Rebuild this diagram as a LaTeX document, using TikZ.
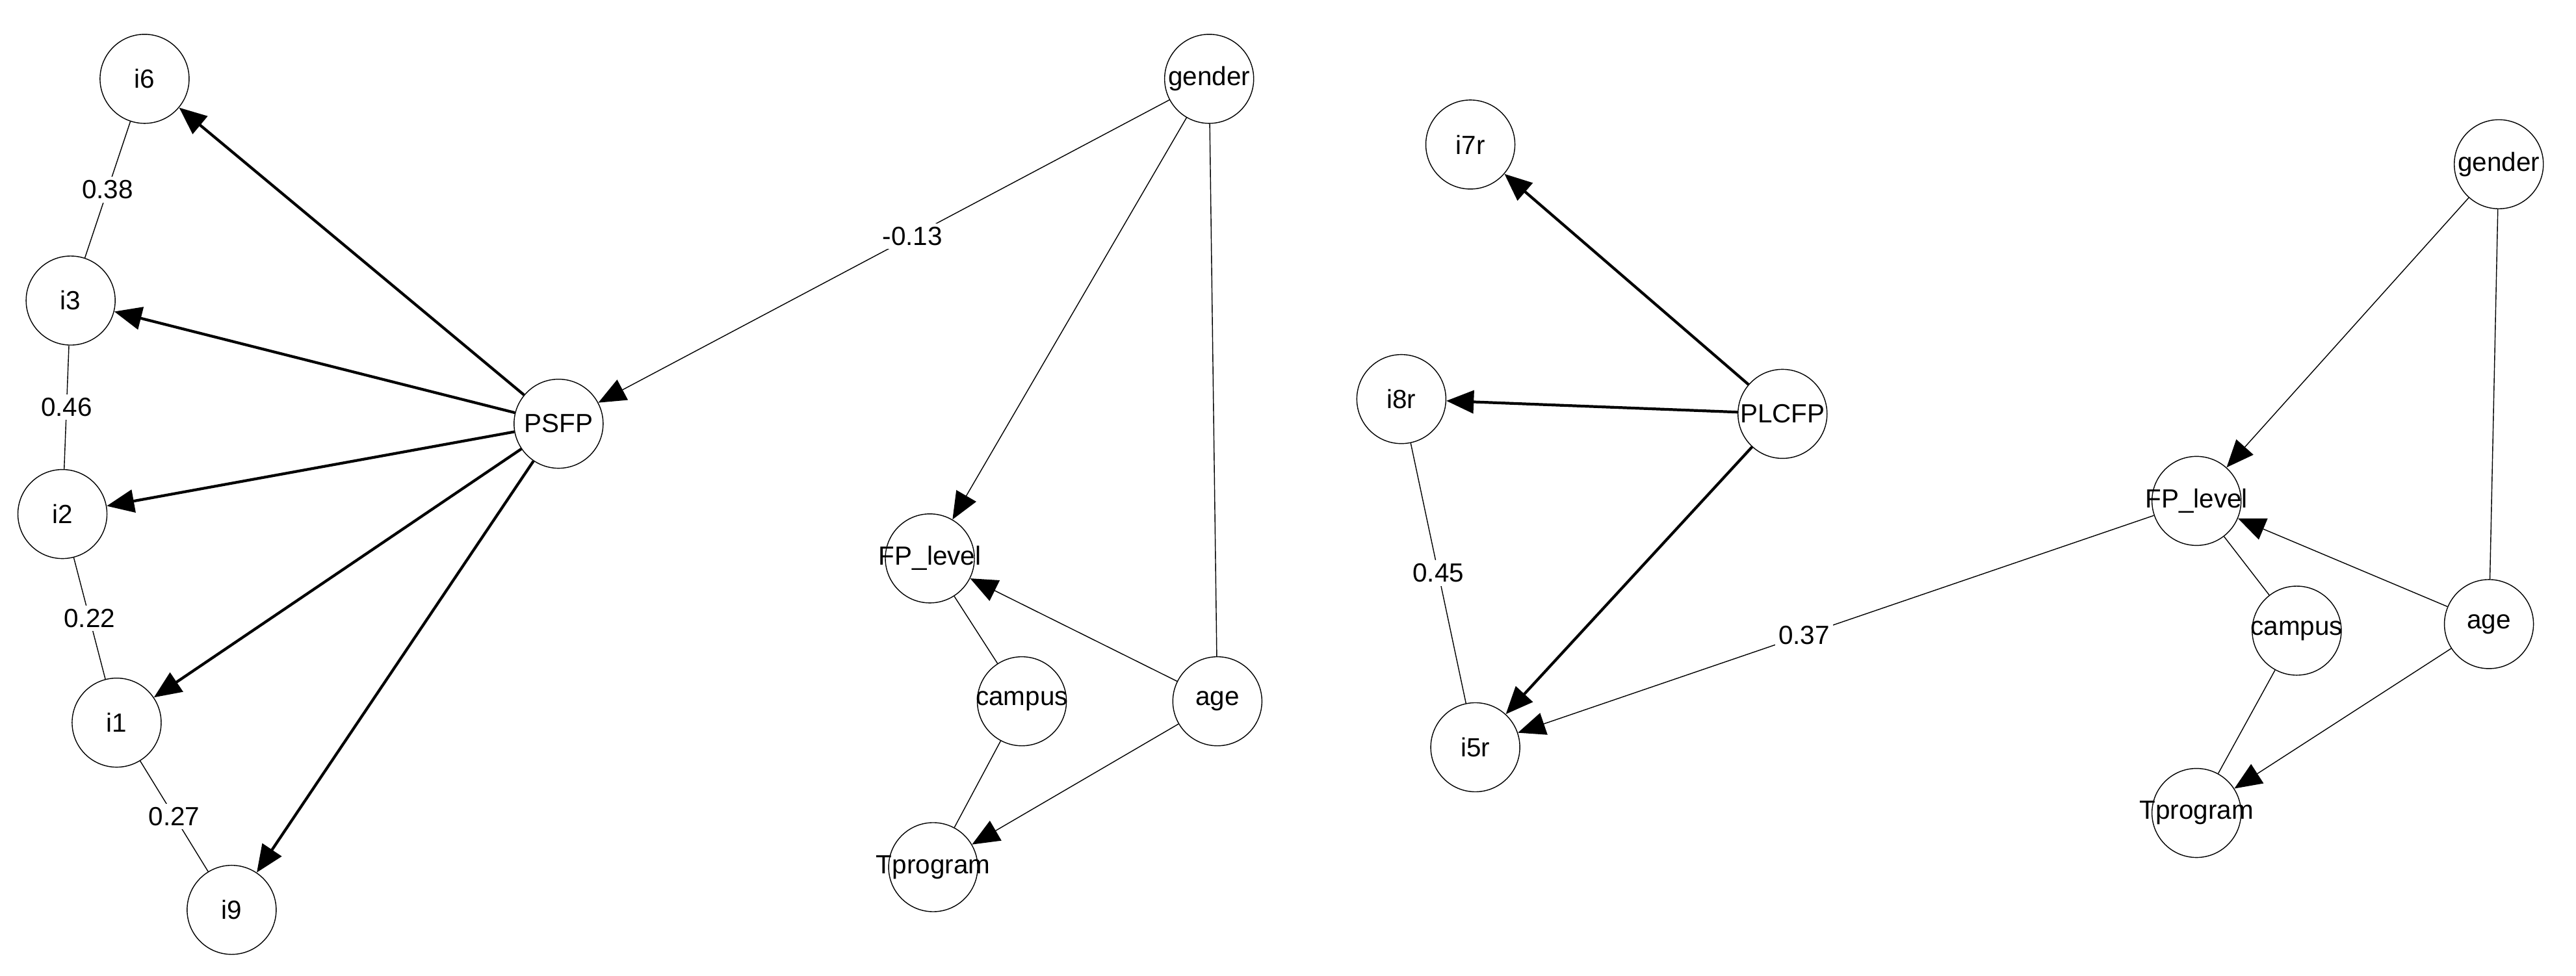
\documentclass[tikz,border=0pt]{standalone}
\usepackage{fontspec}
\setmainfont{Liberation Sans}
\usepackage{tikz}
\usetikzlibrary{arrows.meta}

\begin{document}
\begin{tikzpicture}[x=0.02527cm, y=-0.02527cm,
	var/.style={circle, draw, thin, minimum size=1.37cm, inner sep=0pt,
		label={[font=\fontsize{11.5}{13}\selectfont]center:#1}},
	load/.style={very thick, -{Triangle[length=12pt,width=10pt]}},
	reg/.style={thin, -{Triangle[length=12pt,width=10pt]}},
	cov/.style={thin},
	lbl/.style={fill=white, inner sep=1.5pt, font=\fontsize{11.5}{13}\selectfont}]

	\useasboundingbox (0,0) rectangle (1568,594);

	% left model
	\node[var=i6] (i6) at (88,48) {};
	\node[var=i3] (i3) at (43,183) {};
	\node[var=i2] (i2) at (38,313) {};
	\node[var=i1] (i1) at (71,440) {};
	\node[var=i9] (i9) at (141,554) {};
	\node[var=PSFP] (PSFP) at (340,258) {};
	\node[var=gender] (genderA) at (736,48) {};
	\node[var=FP\_level] (levelA) at (566,340) {};
	\node[var=campus] (campusA) at (622,427) {};
	\node[var=age] (ageA) at (741,427) {};
	\node[var=Tprogram] (progA) at (568,528) {};

	\foreach \t in {i6,i3,i2,i1,i9}
		\draw[load] (PSFP) -- (\t);

	\draw[cov] (i6) -- node[lbl] {0.38} (i3);
	\draw[cov] (i3) -- node[lbl] {0.46} (i2);
	\draw[cov] (i2) -- node[lbl] {0.22} (i1);
	\draw[cov] (i1) -- node[lbl] {0.27} (i9);

	\draw[reg] (genderA) -- node[lbl, pos=0.45] {-0.13} (PSFP);
	\draw[reg] (genderA) -- (levelA);
	\draw[cov] (genderA) -- (ageA);
	\draw[reg] (ageA) -- (levelA);
	\draw[reg] (ageA) -- (progA);
	\draw[cov] (campusA) -- (levelA);
	\draw[cov] (campusA) -- (progA);

	% right model
	\node[var=i7r] (i7r) at (895,88) {};
	\node[var=i8r] (i8r) at (853,243) {};
	\node[var=i5r] (i5r) at (898,455) {};
	\node[var=PLCFP] (PLCFP) at (1085,252) {};
	\node[var=gender] (genderB) at (1521,100) {};
	\node[var=FP\_level] (levelB) at (1337,305) {};
	\node[var=campus] (campusB) at (1398,384) {};
	\node[var=age] (ageB) at (1515,380) {};
	\node[var=Tprogram] (progB) at (1337,495) {};

	\foreach \t in {i7r,i8r,i5r}
		\draw[load] (PLCFP) -- (\t);

	\draw[cov] (i8r) -- node[lbl] {0.45} (i5r);
	\draw[reg] (levelB) -- node[lbl, pos=0.55] {0.37} (i5r);

	\draw[reg] (genderB) -- (levelB);
	\draw[cov] (genderB) -- (ageB);
	\draw[reg] (ageB) -- (levelB);
	\draw[reg] (ageB) -- (progB);
	\draw[cov] (campusB) -- (levelB);
	\draw[cov] (campusB) -- (progB);

\end{tikzpicture}
\end{document}
